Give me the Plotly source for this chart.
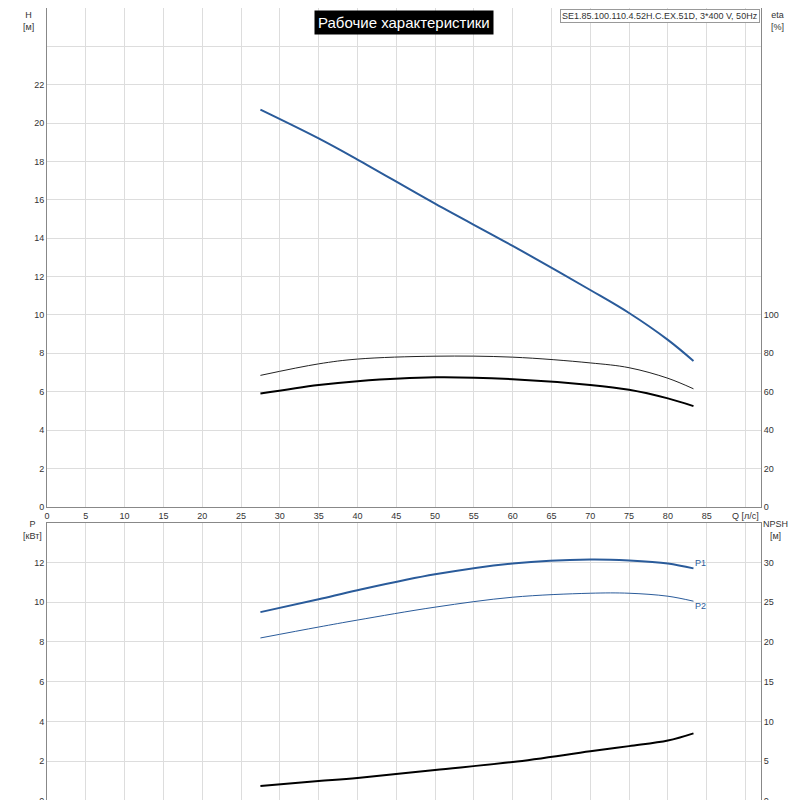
import plotly.graph_objects as go

q = [27.5, 35, 40, 50, 60, 70, 75, 80, 83.3]
h = [20.7, 19.2, 18.1, 15.8, 13.6, 11.3, 10.1, 8.7, 7.6]
eta_thin = [68.5, 74.5, 77, 78.5, 78, 75, 72.5, 67, 61.5]   # %
eta_thick = [59, 63.5, 65.5, 67.5, 66.5, 63.5, 61, 56.5, 52.5]
p1 = [9.5, 10.15, 10.6, 11.4, 11.95, 12.15, 12.1, 11.95, 11.7]
p2 = [8.2, 8.75, 9.1, 9.75, 10.25, 10.45, 10.45, 10.3, 10.05]
npsh = [1.9, 2.5, 2.9, 3.9, 4.9, 6.25, 6.9, 7.6, 8.5]

blue = "#2a5b9a"
fig = go.Figure()
def line(x, y, color, width, xa="x", ya="y"):
    fig.add_trace(go.Scatter(x=x, y=y, mode="lines", xaxis=xa, yaxis=ya,
                             line=dict(color=color, width=width, shape="spline")))

line(q, h, blue, 2)
line(q, eta_thin, "#222", 1, ya="y2")
line(q, eta_thick, "black", 2, ya="y2")
line(q, p1, blue, 2, "x2", "y3")
line(q, p2, blue, 1, "x2", "y3")
line(q, npsh, "black", 2, "x2", "y4")

ax = dict(showgrid=True, gridcolor="#dddddd", zeroline=False, showline=True, linecolor="#888",
          mirror=True, tickfont=dict(size=9, color="#333"), ticks="", automargin=False)
xt = list(range(0, 95, 5))
xl = [str(v) if v < 90 else "" for v in xt]
hv = list(range(0, 26, 2))
hl = [str(v) if v < 24 else "" for v in hv]
fig.update_layout(
    width=800, height=800, showlegend=False, plot_bgcolor="white", paper_bgcolor="white",
    margin=dict(l=39, r=47, t=0, b=7),
    font=dict(family="Liberation Sans"),
    xaxis=dict(ax, domain=[0, 1], range=[0, 92], anchor="y", tickvals=xt, ticktext=xl),
    yaxis=dict(ax, domain=[0.371, 1], range=[0, 26], tickvals=hv, ticktext=hl),
    yaxis2=dict(ax, overlaying="y", side="right", range=[0, 260], showgrid=False,
                tickvals=list(range(0, 120, 20))),
    xaxis2=dict(ax, domain=[0, 1], range=[0, 92], anchor="y3", tickvals=xt, showticklabels=False),
    yaxis3=dict(ax, domain=[0, 0.351], range=[0, 14], tickvals=list(range(0, 14, 2))),
    yaxis4=dict(ax, overlaying="y3", side="right", range=[0, 35], showgrid=False,
                tickvals=list(range(0, 35, 5))),
)

f9 = dict(size=9, color="#333")
fig.add_annotation(x=-0.036, y=1.0, xref="paper", yref="paper", text="H<br>[м]", showarrow=False,
                   font=f9, yanchor="top")
fig.add_annotation(x=1.035, y=1.0, xref="paper", yref="paper", text="eta<br>[%]", showarrow=False,
                   font=f9, yanchor="top")
fig.add_annotation(x=-0.036, y=0.358, xref="paper", yref="paper", text="P<br>[кВт]", showarrow=False,
                   font=f9, yanchor="top")
fig.add_annotation(x=1.04, y=0.358, xref="paper", yref="paper", text="NPSH<br>[м]", showarrow=False,
                   font=f9, yanchor="top")
fig.add_annotation(x=90, y=0, xref="x", yref="y", text="Q [л/с]", showarrow=False,
                   font=f9, yshift=-9)
fig.add_annotation(x=0.5, y=0.998, xref="paper", yref="paper", text="Рабочие характеристики",
                   showarrow=False, bgcolor="black", font=dict(size=15, color="white"),
                   yanchor="top", borderpad=3)
fig.add_annotation(x=0.999, y=0.999, xref="paper", yref="paper",
                   text="SE1.85.100.110.4.52H.C.EX.51D, 3*400 V, 50Hz", showarrow=False,
                   bgcolor="white", bordercolor="#999", borderwidth=1,
                   font=f9, xanchor="right", yanchor="top")
fig.add_annotation(x=q[-1], y=p1[-1], xref="x2", yref="y3", text="P1", showarrow=False,
                   xanchor="left", yshift=5, font=dict(size=9, color=blue))
fig.add_annotation(x=q[-1], y=p2[-1], xref="x2", yref="y3", text="P2", showarrow=False,
                   xanchor="left", yshift=-5, font=dict(size=9, color=blue))

fig.write_html("out.html")
